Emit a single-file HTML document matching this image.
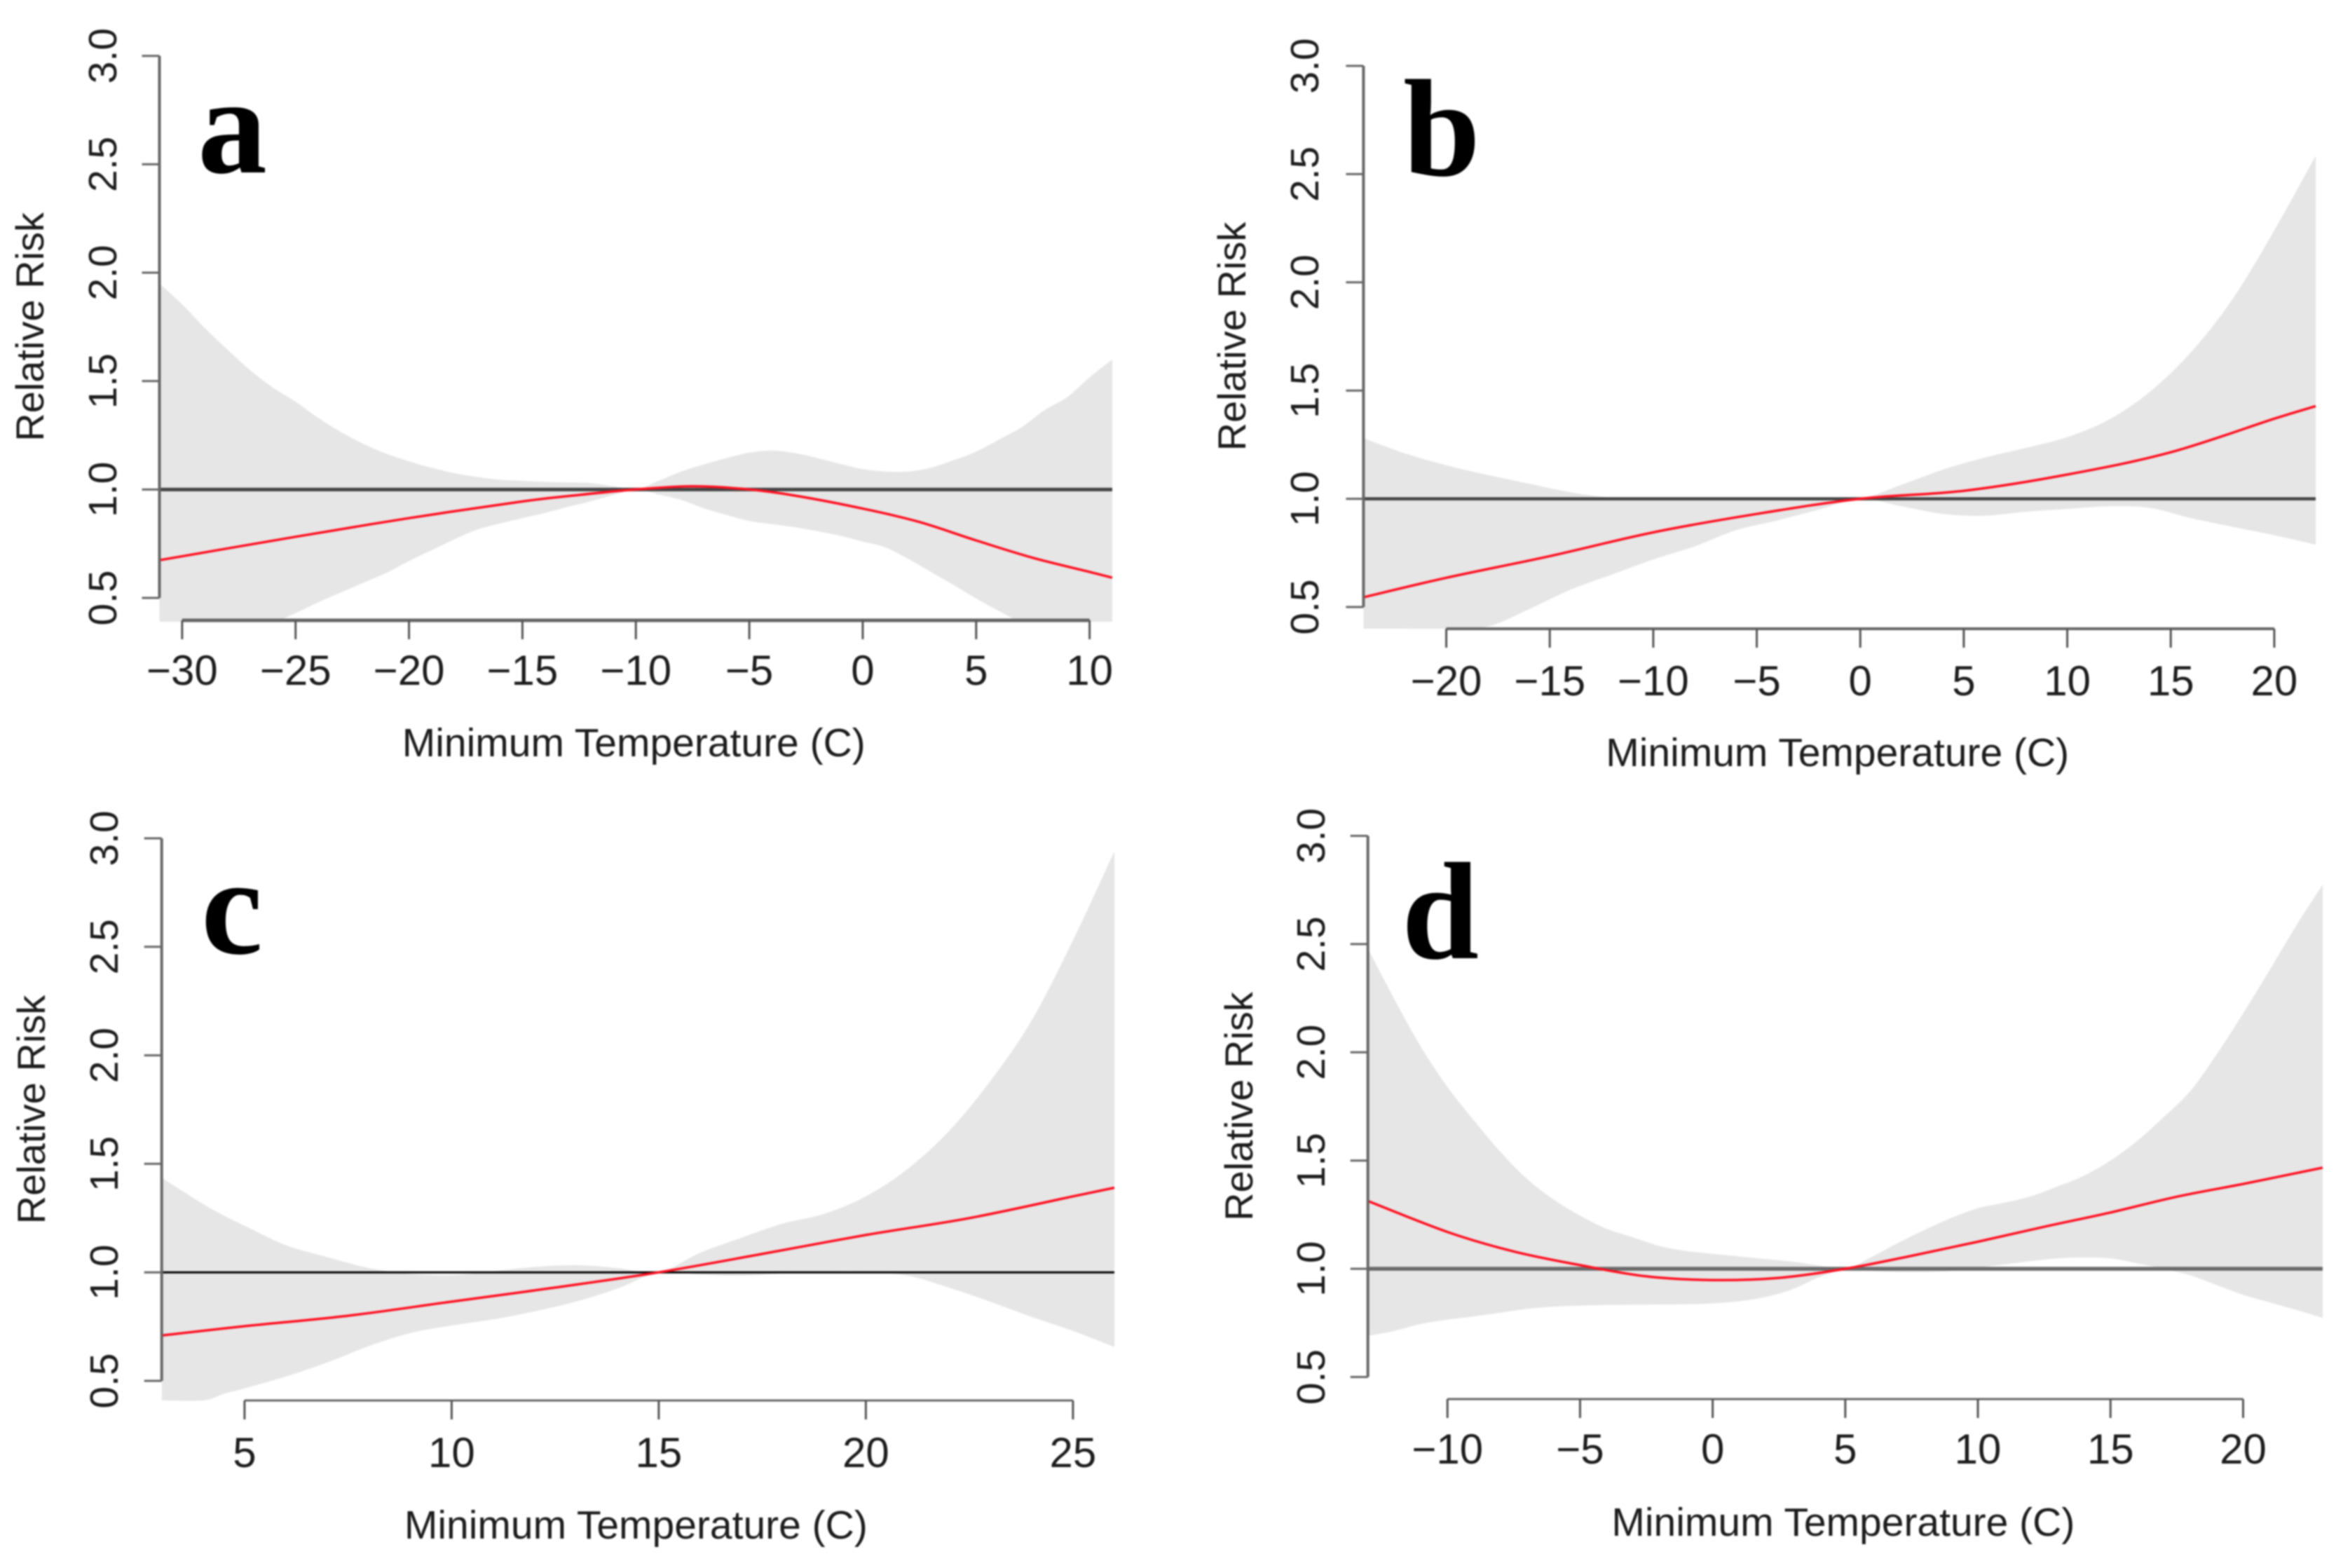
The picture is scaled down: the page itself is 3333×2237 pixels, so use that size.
<!DOCTYPE html>
<html lang="en">
<head>
<meta charset="utf-8">
<title>Relative Risk vs Minimum Temperature</title>
<style>
  html, body { margin: 0; padding: 0; background: #fff; }
  body { width: 3333px; height: 2237px; overflow: hidden; }
  #figure { display: block; filter: blur(1.1px); }
  text { font-family: "Liberation Sans", sans-serif; fill: #1c1c1c; }
  .panel-letter { font-family: "Liberation Serif", serif; font-weight: bold; fill: #000; }
</style>
</head>
<body>
<svg id="figure" xmlns="http://www.w3.org/2000/svg" width="3333" height="2237" viewBox="0 0 3333 2237"></svg>
<script>
// Shared axis values
const yTicks = [0.5, 1.0, 1.5, 2.0, 2.5, 3.0];
const yTickLabels = ['0.5', '1.0', '1.5', '2.0', '2.5', '3.0'];

// Panel a
const aTemps = [-31,-30,-29,-28,-27,-26,-25,-24,-23,-22,-21,-20,-19,-18,-17,-16,-15,-14,-13,-12,-11,-10,-9,-8,-7,-6,-5,-4,-3,-2,-1,0,1,2,3,4,5,6,7,8,9,10,11];
const aUpper = [1.95,1.854,1.745,1.645,1.55,1.47,1.405,1.33,1.265,1.21,1.165,1.13,1.10,1.075,1.058,1.045,1.04,1.035,1.032,1.03,1.015,1.0,1.04,1.083,1.116,1.145,1.17,1.18,1.168,1.145,1.118,1.094,1.083,1.083,1.10,1.135,1.175,1.23,1.287,1.365,1.425,1.517,1.6];
const aLower = [0.39,0.39,0.39,0.39,0.39,0.39,0.43,0.48,0.525,0.57,0.615,0.67,0.72,0.77,0.815,0.843,0.868,0.892,0.92,0.945,0.975,1.0,0.977,0.952,0.913,0.882,0.855,0.84,0.826,0.808,0.787,0.76,0.733,0.68,0.62,0.56,0.497,0.44,0.39,0.39,0.39,0.39,0.39];
const aFitTemps = [-31,-25,-20,-15,-12.5,-10,-7.5,-5,-3,0,2.5,5,7.5,10,11];
const aFit = [0.674,0.782,0.868,0.945,0.975,1.0,1.015,1.0,0.972,0.912,0.85,0.765,0.685,0.62,0.593];
const aXTicks = [-30,-25,-20,-15,-10,-5,0,5,10];
const aXTickLabels = ['−30','−25','−20','−15','−10','−5','0','5','10'];

// Panel b
const bTemps = [-24,-22,-20,-18,-16,-14,-12,-10,-8,-6,-4,-2,0,2,4,6,8,10,12,14,16,18,20,22];
const bUpper = [1.28,1.21,1.155,1.11,1.07,1.03,1.005,1.0,1.0,1.0,1.0,1.0,1.0,1.065,1.135,1.19,1.235,1.285,1.365,1.495,1.68,1.925,2.24,2.585];
const bLower = [0.40,0.40,0.40,0.41,0.49,0.58,0.65,0.72,0.78,0.855,0.90,0.95,1.0,0.965,0.93,0.922,0.94,0.953,0.965,0.958,0.91,0.87,0.832,0.788];
const bFitTemps = [-24,-20,-15,-10,-5,0,5,10,15,20,22];
const bFit = [0.545,0.635,0.735,0.845,0.93,1.0,1.037,1.112,1.215,1.37,1.428];
const bXTicks = [-20,-15,-10,-5,0,5,10,15,20];
const bXTickLabels = ['−20','−15','−10','−5','0','5','10','15','20'];

// Panel c
const cTemps = [3,4,4.5,5,6,7,8,9,10,11,12,13,14,15,16,17,18,19,20,21,22,23,24,25,26];
const cUpper = [1.436,1.315,1.262,1.215,1.125,1.07,1.02,0.993,0.987,1.005,1.025,1.033,1.02,1.0,1.09,1.16,1.225,1.27,1.35,1.475,1.65,1.88,2.16,2.53,2.94];
const cLower = [0.41,0.41,0.44,0.465,0.52,0.585,0.66,0.72,0.755,0.783,0.82,0.865,0.925,1.0,0.99,0.985,0.995,1.003,1.003,0.985,0.93,0.865,0.795,0.73,0.656];
const cFitTemps = [3,5,7.5,10,12.5,15,17.5,20,22.5,25,26];
const cFit = [0.709,0.752,0.80,0.865,0.93,1.0,1.085,1.172,1.25,1.35,1.39];
const cXTicks = [5,10,15,20,25];
const cXTickLabels = ['5','10','15','20','25'];

// Panel d
const dTemps = [-13,-12,-11,-10,-9,-8,-7,-6,-5,-4,-3,-2,-1,0,1,2,3,4,5,6,7,8,9,10,11,12,13,14,15,16,17,18,19,20,21,22,23];
const dUpper = [2.48,2.245,2.025,1.84,1.685,1.54,1.415,1.32,1.245,1.185,1.145,1.105,1.082,1.069,1.057,1.045,1.033,1.015,1.0,1.055,1.12,1.18,1.235,1.28,1.305,1.335,1.38,1.43,1.50,1.59,1.70,1.82,1.99,2.18,2.38,2.585,2.775];
const dLower = [0.69,0.713,0.745,0.765,0.78,0.797,0.815,0.825,0.83,0.833,0.834,0.835,0.836,0.84,0.85,0.87,0.905,0.96,1.0,0.99,0.985,0.985,0.99,1.005,1.02,1.035,1.048,1.052,1.048,1.025,1.0,0.97,0.925,0.88,0.845,0.81,0.773];
const dFitTemps = [-13,-10,-7.5,-5,-2.5,0,2.5,5,7.5,10,12.5,15,17.5,20,23];
const dFit = [1.313,1.17,1.08,1.017,0.965,0.948,0.958,1.0,1.06,1.125,1.194,1.26,1.333,1.392,1.467];
const dXTicks = [-10,-5,0,5,10,15,20];
const dXTickLabels = ['−10','−5','0','5','10','15','20'];

const panels = [
  { id:'a', temps:aTemps, upper:aUpper, lower:aLower, fitTemps:aFitTemps, fit:aFit, xTicks:aXTicks, xLabels:aXTickLabels,
    xMin:-31, xMax:11, left:227.5, right:1587, yTop:79.7, yBottom:853, axisY:885, xLabelY:977, xTitleY:1079, yLabelX:166, yTitleX:62,
    letterX:282, letterY:246, refColor:'#444', refWidth:5, xAxisWidth:5 },
  { id:'b', temps:bTemps, upper:bUpper, lower:bLower, fitTemps:bFitTemps, fit:bFit, xTicks:bXTicks, xLabels:bXTickLabels,
    xMin:-24, xMax:22, left:1945.4, right:3304, yTop:94, yBottom:866, axisY:897, xLabelY:992, xTitleY:1093, yLabelX:1881, yTitleX:1777,
    letterX:2002, letterY:250, refColor:'#444', refWidth:4.5, xAxisWidth:4 },
  { id:'c', temps:cTemps, upper:cUpper, lower:cLower, fitTemps:cFitTemps, fit:cFit, xTicks:cXTicks, xLabels:cXTickLabels,
    xMin:3, xMax:26, left:230.7, right:1590, yTop:1196, yBottom:1970, axisY:1998, xLabelY:2093, xTitleY:2195, yLabelX:168, yTitleX:64,
    letterX:287, letterY:1360, refColor:'#000', refWidth:3, xAxisWidth:3 },
  { id:'d', temps:dTemps, upper:dUpper, lower:dLower, fitTemps:dFitTemps, fit:dFit, xTicks:dXTicks, xLabels:dXTickLabels,
    xMin:-13, xMax:23, left:1951.7, right:3314, yTop:1192.5, yBottom:1964.5, axisY:1996, xLabelY:2088, xTitleY:2191, yLabelX:1890, yTitleX:1787,
    letterX:2000, letterY:1367, refColor:'#6a6a6a', refWidth:5.5, xAxisWidth:3 }
];

const SVG_NS = 'http://www.w3.org/2000/svg';
const figure = document.getElementById('figure');
const defs = document.createElementNS(SVG_NS, 'defs');
figure.appendChild(defs);

function node(parent, tag, attrs) {
  const el = document.createElementNS(SVG_NS, tag);
  for (const k in attrs) el.setAttribute(k, attrs[k]);
  parent.appendChild(el);
  return el;
}

// Catmull-Rom smoothing segments through a list of points
function smoothSegments(pts) {
  let d = '';
  for (let i = 0; i < pts.length - 1; i++) {
    const p0 = pts[Math.max(i - 1, 0)], p1 = pts[i], p2 = pts[i + 1], p3 = pts[Math.min(i + 2, pts.length - 1)];
    const c1x = p1[0] + (p2[0] - p0[0]) / 6, c1y = p1[1] + (p2[1] - p0[1]) / 6;
    const c2x = p2[0] - (p3[0] - p1[0]) / 6, c2y = p2[1] - (p3[1] - p1[1]) / 6;
    d += 'C' + [c1x, c1y, c2x, c2y, p2[0], p2[1]].map(v => v.toFixed(1)).join(' ');
  }
  return d;
}
function start(cmd, pt) {
  return cmd + pt[0].toFixed(1) + ' ' + pt[1].toFixed(1);
}

panels.forEach(p => {
  const xScale = v => p.left + (v - p.xMin) / (p.xMax - p.xMin) * (p.right - p.left);
  const yScale = v => p.yBottom + (v - 0.5) / 2.5 * (p.yTop - p.yBottom);

  const g = node(figure, 'g', {});
  
  

  const clip = node(defs, 'clipPath', { id: 'plot-clip-' + p.id });
  node(clip, 'rect', { x: p.left, y: 0, width: p.right - p.left, height: yScale(0.39) });

  // Confidence band
  const upperPts = p.temps.map((t, i) => [xScale(t), yScale(p.upper[i])]);
  const lowerPts = p.temps.map((t, i) => [xScale(t), yScale(p.lower[i])]).reverse();
  const bandPath = start('M', upperPts[0]) + smoothSegments(upperPts) + start('L', lowerPts[0]) + smoothSegments(lowerPts) + 'Z';
  const band = node(g, 'path', { d: bandPath, fill: '#e6e6e6', 'clip-path': 'url(#plot-clip-' + p.id + ')' });
  
  

  // Reference line at RR = 1
  const ref = node(g, 'line', { x1: p.left, x2: p.right, y1: yScale(1), y2: yScale(1), stroke: p.refColor, 'stroke-width': p.refWidth });
  
  

  // Fitted curve
  const fitPts = p.fitTemps.map((t, i) => [xScale(t), yScale(p.fit[i])]);
  const curve = node(g, 'path', { d: start('M', fitPts[0]) + smoothSegments(fitPts), fill: 'none', stroke: '#ff0f20', 'stroke-width': 3.5 });
  
  

  // Y axis
  const yAxis = node(g, 'line', { x1: p.left, x2: p.left, y1: yScale(0.5), y2: yScale(3), stroke: '#666', 'stroke-width': 4 });
  
  
  yTicks.forEach((v, i) => {
    const tick = node(g, 'line', { x1: p.left - 25, x2: p.left, y1: yScale(v), y2: yScale(v), stroke: '#666', 'stroke-width': 3 });
    
    
    const label = node(g, 'text', {
      transform: 'translate(' + p.yLabelX + ' ' + yScale(v) + ') rotate(-90)',
      'text-anchor': 'middle', 'font-size': 57
    });
    label.textContent = yTickLabels[i];
    
    
  });

  // X axis
  const xAxis = node(g, 'line', {
    x1: xScale(p.xTicks[0]), x2: xScale(p.xTicks[p.xTicks.length - 1]), y1: p.axisY, y2: p.axisY, stroke: '#666', 'stroke-width': p.xAxisWidth
  });
  
  
  p.xTicks.forEach((v, i) => {
    const tick = node(g, 'line', { x1: xScale(v), x2: xScale(v), y1: p.axisY, y2: p.axisY + 27, stroke: '#555', 'stroke-width': 3 });
    
    
    const label = node(g, 'text', {
      transform: 'translate(' + xScale(v) + ' ' + p.xLabelY + ')',
      'text-anchor': 'middle', 'font-size': 60
    });
    label.textContent = p.xLabels[i];
    
    
  });

  // Axis titles
  const midX = (p.left + p.right) / 2, midY = (p.yTop + p.yBottom) / 2;
  const xTitle = node(g, 'text', {
    transform: 'translate(' + (midX - 3) + ' ' + p.xTitleY + ')',
    'text-anchor': 'middle', 'font-size': 57
  });
  xTitle.textContent = 'Minimum Temperature (C)';
  
  

  const yTitle = node(g, 'text', {
    transform: 'translate(' + p.yTitleX + ' ' + midY + ') rotate(-90)',
    'text-anchor': 'middle', 'font-size': 56
  });
  yTitle.textContent = 'Relative Risk';
  
  

  // Panel letter
  const letter = node(g, 'text', {
    transform: 'translate(' + p.letterX + ' ' + p.letterY + ')',
    'font-size': 198, class: 'panel-letter'
  });
  letter.textContent = p.id;
  
  
});
</script>
</body>
</html>
